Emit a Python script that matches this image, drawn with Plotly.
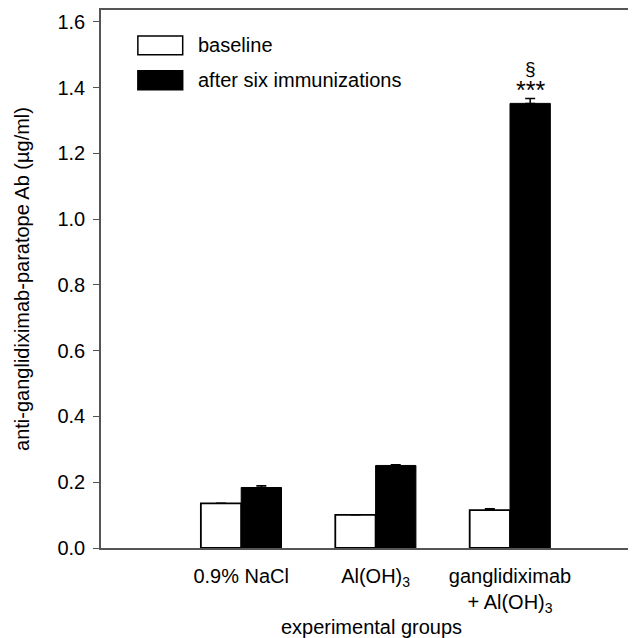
import plotly.graph_objects as go

groups = ["0.9% NaCl", "Al(OH)<sub>3</sub>", "ganglidiximab<br>+ Al(OH)<sub>3</sub>"]
group_pos = [1, 2, 3]
baseline = [0.136, 0.101, 0.115]
baseline_err = [0.0, 0.0, 0.004]
after = [0.184, 0.251, 1.352]
after_err = [0.005, 0.002, 0.015]
y_ticks = [0.0, 0.2, 0.4, 0.6, 0.8, 1.0, 1.2, 1.4, 1.6]
series_names = ["baseline", "after six immunizations"]

# the page adds an 8px body margin, so figure coordinates are screen - 8
W, H = 636, 638
ML, MR, MT, MB = 93, 0, 0, 98
FONT = "Liberation Sans, Arial, sans-serif"
FS = 20
AX = "#555555"

fig = go.Figure()
fig.add_trace(go.Bar(
    x=group_pos, y=baseline, name=series_names[0],
    marker=dict(color="white", line=dict(color="black", width=1.8)),
    error_y=dict(type="data", array=baseline_err, symmetric=False,
                 arrayminus=[0] * len(baseline_err), color="black", thickness=1.5, width=5),
    showlegend=False,
))
fig.add_trace(go.Bar(
    x=group_pos, y=after, name=series_names[1],
    marker=dict(color="black", line=dict(color="black", width=1)),
    error_y=dict(type="data", array=after_err, symmetric=False,
                 arrayminus=[0] * len(after_err), color="black", thickness=1.5, width=5),
    showlegend=False,
))

# significance marks above the last "after" bar
top = after[2] + after_err[2]
fig.add_annotation(x=3.15, y=top, text="***", showarrow=False, yanchor="middle",
                   yshift=8, font=dict(family=FONT, size=25, color="black"))
fig.add_annotation(x=3.15, y=top, text="§", showarrow=False, yanchor="middle",
                   yshift=30, font=dict(family=FONT, size=19, color="black"))

# custom legend (positions in screen pixels)
pw, ph = W - ML - MR, H - MT - MB
def px(xs):
    return (xs - 8 - ML) / pw
def py(ys):
    return (H - MB - (ys - 8)) / ph
legend_rows = [(34, 53, "white"), (69, 88, "black")]
for (y0, y1, col), name in zip(legend_rows, series_names):
    fig.add_shape(type="rect", xref="paper", yref="paper",
                  x0=px(138), x1=px(183), y0=py(y1), y1=py(y0),
                  fillcolor=col, line=dict(color="black", width=1.5))
    fig.add_annotation(xref="paper", yref="paper", x=px(196), y=py((y0 + y1) / 2),
                       text=name, showarrow=False, xanchor="left", yanchor="middle",
                       font=dict(family=FONT, size=FS, color="black"))

fig.update_layout(
    width=W, height=H,
    margin=dict(l=ML, r=MR, t=MT, b=MB),
    plot_bgcolor="white", paper_bgcolor="white",
    barmode="group", bargap=0.4, bargroupgap=0,
    font=dict(family=FONT, size=FS, color="black"),
)
fig.update_xaxes(
    range=[-0.043, 3.982], tickvals=group_pos, ticktext=groups,
    showline=True, linecolor=AX, linewidth=1.5, mirror=True,
    ticks="outside", ticklen=9, tickcolor="rgba(0,0,0,0)",
    showgrid=False, zeroline=False,
    title=dict(text="experimental groups", standoff=0, font=dict(size=FS)),
    tickfont=dict(size=FS),
)
fig.update_yaxes(
    range=[0, 1.636], tickvals=y_ticks, ticktext=[f"{v:.1f}" for v in y_ticks],
    showline=True, linecolor=AX, linewidth=1.5, mirror=True,
    ticks="outside", ticklen=6, tickcolor=AX, tickwidth=1.2,
    ticklabelstandoff=4,
    showgrid=False, zeroline=False,
    title=dict(text="anti-ganglidiximab-paratope Ab (µg/ml)", standoff=22, font=dict(size=FS)),
    tickfont=dict(size=FS),
)

fig.write_html("out.html")
